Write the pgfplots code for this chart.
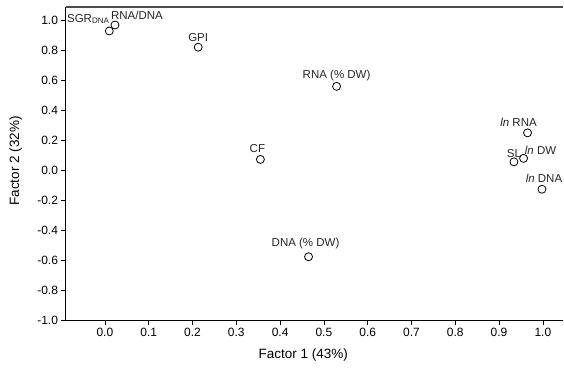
\documentclass[border=0pt]{standalone}
\usepackage{pgfplots}
\usepackage{pgfplotstable}
\pgfplotsset{compat=1.18}
\usepackage{fontspec}
\setmainfont{Liberation Sans}

\pgfplotstableread[col sep=semicolon]{
x;y;dx;dy;lab
0.010;0.930;-21;12;SGR\textsubscript{DNA}
0.023;0.970;22;10;RNA/DNA
0.213;0.822;0;10;GPI
0.529;0.561;0;11;RNA (\% DW)
0.355;0.074;-3;11;CF
0.465;-0.575;-3;13;DNA (\% DW)
0.965;0.251;-9;11;\textit{ln} RNA
0.934;0.058;0;8;SL
0.956;0.081;17;8;\textit{ln} DW
0.998;-0.125;2;11;\textit{ln} DNA
}\loadings

\begin{document}
\begin{tikzpicture}
\begin{axis}[
  scale only axis,
  width=497.5pt, height=313.5pt,
  xmin=-0.09, xmax=1.046,
  ymin=-1, ymax=1.09,
  axis x line*=bottom,
  axis y line*=left,
  axis line style={black, line width=0.8pt},
  xtick={0,0.1,...,1.0},
  ytick={-1,-0.8,...,1.0},
  tick align=outside,
  major tick length=4pt,
  tick style={black, line width=0.7pt},
  /pgf/number format/assume math mode=true,
  xticklabel style={/pgf/number format/.cd, fixed, fixed zerofill, precision=1},
  yticklabel style={/pgf/number format/.cd, fixed, fixed zerofill, precision=1},
  ticklabel style={font=\fontsize{12}{14}\selectfont},
  xlabel={Factor 1 (43\%)},
  ylabel={Factor 2 (32\%)},
  label style={font=\fontsize{13.5}{16}\selectfont},
  xlabel style={at={(axis description cs:0.478,-0.11)}, anchor=center},
  ylabel style={at={(axis description cs:-0.1,0.509)}, anchor=center},
  clip=false,
]
\addplot[only marks, mark=o, mark size=4pt, mark options={line width=0.8pt, black},
  nodes near coords,
  point meta=explicit symbolic,
  visualization depends on={\thisrow{dx}\as\dx},
  visualization depends on={\thisrow{dy}\as\dy},
  nodes near coords style={anchor=center, xshift=\dx pt, yshift=\dy pt,
     font=\fontsize{11.5}{13}\selectfont, inner sep=0pt, text=black!85},
] table[x=x, y=y, meta=lab] {\loadings};
\draw[black!70, line width=1.2pt] (rel axis cs:0,1) -- (rel axis cs:1,1);
\end{axis}
\pgfresetboundingbox
\path (current axis.south west) ++(-65.5pt,-49.5pt) coordinate (bl);
\path (current axis.north east) ++(1pt,7pt) coordinate (tr);
\path[use as bounding box] (bl) rectangle (tr);
\end{tikzpicture}
\end{document}
